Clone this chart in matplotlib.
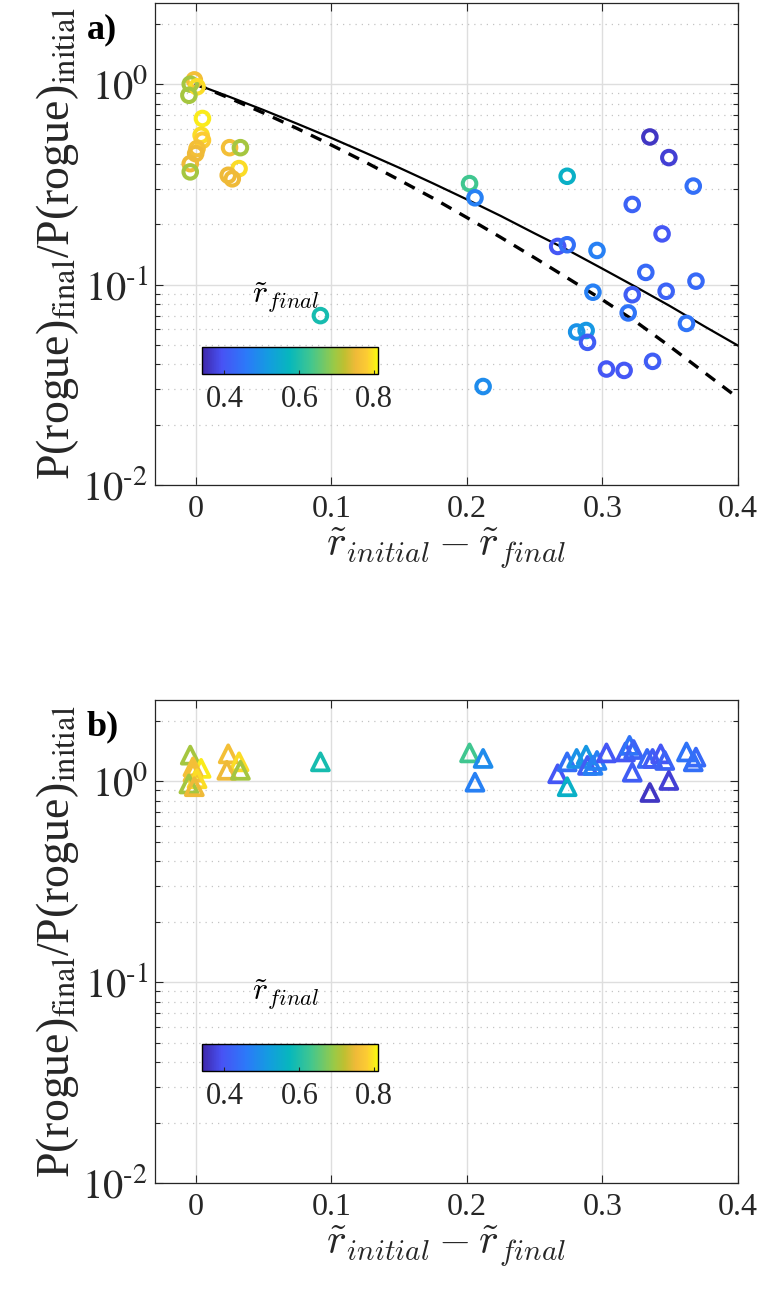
import numpy as np
import matplotlib
matplotlib.use('Agg')
import matplotlib.pyplot as plt
from matplotlib.colors import LinearSegmentedColormap, Normalize
from matplotlib.ticker import FixedLocator, LogLocator, NullFormatter

plt.rcParams['font.family'] = ['Liberation Serif', 'DejaVu Serif']
plt.rcParams['mathtext.fontset'] = 'stix'

# ---- data ----
# panel a: circles (r_initial - r_final, P ratio, r_final)
a_x = [-0.001, -0.004, 0.001, -0.005, 0.005, 0.004, 0.005, 0.001, 0.000, -0.004, -0.004,
       0.025, 0.033, 0.032, 0.024, 0.027,
       0.335, 0.349, 0.367, 0.202, 0.206, 0.274, 0.322, 0.344, 0.267, 0.274, 0.296,
       0.332, 0.369, 0.293, 0.322, 0.347, 0.319, 0.362, 0.281, 0.288, 0.289, 0.337,
       0.303, 0.316, 0.212, 0.092]
a_y = [1.05, 1.00, 0.97, 0.88, 0.674, 0.556, 0.525, 0.477, 0.45, 0.401, 0.365,
       0.482, 0.482, 0.379, 0.351, 0.337,
       0.545, 0.43, 0.31, 0.319, 0.271, 0.347, 0.251, 0.179, 0.155, 0.158, 0.148,
       0.115, 0.104, 0.0916, 0.089, 0.0926, 0.0722, 0.064, 0.058, 0.059, 0.0515, 0.0414,
       0.0379, 0.0373, 0.031, 0.070]
a_c = [0.76, 0.70, 0.79, 0.70, 0.80, 0.79, 0.78, 0.76, 0.75, 0.75, 0.70,
       0.76, 0.70, 0.79, 0.75, 0.75,
       0.36, 0.37, 0.44, 0.63, 0.47, 0.56, 0.42, 0.40, 0.40, 0.44, 0.47,
       0.43, 0.43, 0.47, 0.41, 0.42, 0.45, 0.45, 0.50, 0.51, 0.41, 0.41,
       0.40, 0.40, 0.49, 0.59]

# panel b: triangles
b_x = [-0.004, 0.004, -0.002, -0.002, 0.001, -0.005, -0.001, 0.024, 0.032, 0.023, 0.033, 0.092,
       0.202, 0.212, 0.206, 0.267, 0.274, 0.274, 0.281, 0.288, 0.289, 0.293, 0.296,
       0.303, 0.317, 0.320, 0.323, 0.322, 0.333, 0.337, 0.343, 0.346, 0.349, 0.335,
       0.362, 0.369, 0.367]
b_y = [1.35, 1.16, 1.11, 1.18, 1.03, 0.97, 0.94, 1.37, 1.25, 1.135, 1.135, 1.25,
       1.385, 1.30, 0.99, 1.09, 0.94, 1.25, 1.30, 1.35, 1.20, 1.20, 1.27,
       1.385, 1.40, 1.51, 1.44, 1.11, 1.30, 1.30, 1.37, 1.27, 1.01, 0.88,
       1.40, 1.32, 1.25]
b_c = [0.70, 0.80, 0.76, 0.76, 0.79, 0.70, 0.75, 0.76, 0.79, 0.75, 0.70, 0.59,
       0.63, 0.49, 0.47, 0.40, 0.56, 0.44, 0.50, 0.51, 0.41, 0.47, 0.47,
       0.40, 0.40, 0.45, 0.42, 0.41, 0.43, 0.41, 0.40, 0.42, 0.37, 0.36,
       0.45, 0.43, 0.44]

# reference curves (panel a), read at fixed x
curve_x = [0.0, 0.025, 0.05, 0.075, 0.1, 0.125, 0.15, 0.175, 0.2, 0.225, 0.25,
           0.275, 0.3, 0.325, 0.35, 0.375, 0.4]
solid_y = [1.0, 0.864, 0.743, 0.634, 0.539, 0.455, 0.383, 0.320, 0.266, 0.220, 0.180,
           0.148, 0.120, 0.097, 0.078, 0.062, 0.0496]
dashed_y = [1.0, 0.851, 0.718, 0.600, 0.497, 0.409, 0.333, 0.270, 0.216, 0.172, 0.136,
            0.107, 0.084, 0.065, 0.049, 0.0365, 0.0272]

clim = (0.34, 0.81)

# parula-like colormap
parula_pts = [(0.2422, 0.1504, 0.6603), (0.2810, 0.3228, 0.9579), (0.1700, 0.4760, 0.9752),
              (0.0780, 0.6100, 0.8800), (0.0265, 0.7193, 0.7381), (0.2700, 0.7800, 0.5500),
              (0.6000, 0.7900, 0.2800), (0.7500, 0.7500, 0.1900), (0.9400, 0.7300, 0.2200),
              (0.9900, 0.8000, 0.2000), (0.9763, 0.9831, 0.0538)]
parula_pos = [0, 0.11, 0.25, 0.375, 0.5, 0.625, 0.75, 0.81, 0.875, 0.94, 1.0]
parula = LinearSegmentedColormap.from_list('parula', list(zip(parula_pos, parula_pts)))
norm = Normalize(*clim)

fig = plt.figure(figsize=(7.63, 12.96))
W, H = 763, 1296


def frac(l, t, r, b):
    return [l / W, 1 - b / H, (r - l) / W, (b - t) / H]


def style_axes(ax, label):
    ax.set_yscale('log')
    ax.set_xlim(-0.03, 0.4)
    ax.set_ylim(0.01, 2.54)
    ax.xaxis.set_major_locator(FixedLocator([0, 0.1, 0.2, 0.3, 0.4]))
    ax.set_xticklabels(['0', '0.1', '0.2', '0.3', '0.4'])
    ax.yaxis.set_major_locator(FixedLocator([0.01, 0.1, 1]))
    ax.set_yticklabels([r'$10^{\text{-}2}$', r'$10^{\text{-}1}$', r'$10^{0}$'])
    ax.yaxis.set_minor_locator(LogLocator(base=10, subs=np.arange(2, 10), numticks=20))
    ax.yaxis.set_minor_formatter(NullFormatter())
    ax.tick_params(which='both', direction='in', top=True, right=True,
                   color='#262626', labelcolor='#262626')
    ax.tick_params(axis='x', labelsize=23, pad=7)
    ax.tick_params(axis='y', labelsize=29, pad=5)
    ax.tick_params(which='major', length=6, width=0.8)
    ax.tick_params(which='minor', length=3.5, width=0.8)
    ax.grid(True, which='major', color='#dedede', lw=1.0)
    ax.grid(True, which='minor', axis='y', color='#c4c4c4', lw=0.9, ls=(0, (1, 4)))
    ax.set_axisbelow(True)
    for s in ax.spines.values():
        s.set_color('#262626')
        s.set_linewidth(0.9)
    ax.set_ylabel(r'P(rogue)$_{\mathrm{final}}$/P(rogue)$_{\mathrm{initial}}$', fontsize=33,
                  color='#262626', labelpad=1)
    ax.set_xlabel(r'$\tilde{r}_{initial} - \tilde{r}_{final}$', fontsize=30,
                  color='#262626', math_fontfamily='cm', labelpad=1)
    ax.text(-0.117, 0.978, label, transform=ax.transAxes, fontsize=26, fontweight='bold',
            ha='left', va='top')


def add_cbar(rect, label_y):
    cax = fig.add_axes(rect)
    cb = fig.colorbar(plt.cm.ScalarMappable(norm=norm, cmap=parula), cax=cax,
                      orientation='horizontal', ticks=[0.4, 0.6, 0.8])
    cb.ax.set_xticklabels(['0.4', '0.6', '0.8'])
    cb.ax.tick_params(direction='in', labelsize=22, length=3, color='#262626',
                      labelcolor='#262626', pad=8)
    cb.outline.set_linewidth(1.0)
    fig.text(286 / W, 1 - label_y / H, r'$\tilde{r}_{final}$', fontsize=23,
             ha='center', va='center', math_fontfamily='cm')


# panel a
ax1 = fig.add_axes(frac(155, 3, 738, 485))
style_axes(ax1, 'a)')
ax1.plot(curve_x, solid_y, color='black', lw=1.6)
ax1.plot(curve_x, dashed_y, color='black', lw=2.4, ls=(0, (3.5, 2.8)))
ax1.scatter(a_x, a_y, s=95, facecolors='none', edgecolors=parula(norm(np.array(a_c))),
            linewidths=2.9, zorder=3)
add_cbar(frac(202, 347, 378, 374), 298)

# panel b
ax2 = fig.add_axes(frac(155, 700, 738, 1183))
style_axes(ax2, 'b)')
ax2.scatter(b_x, b_y, s=150, marker='^', facecolors='none',
            edgecolors=parula(norm(np.array(b_c))), linewidths=2.7, zorder=3)
add_cbar(frac(202, 1044, 378, 1071), 995)

fig.savefig('out.png', dpi=100)
